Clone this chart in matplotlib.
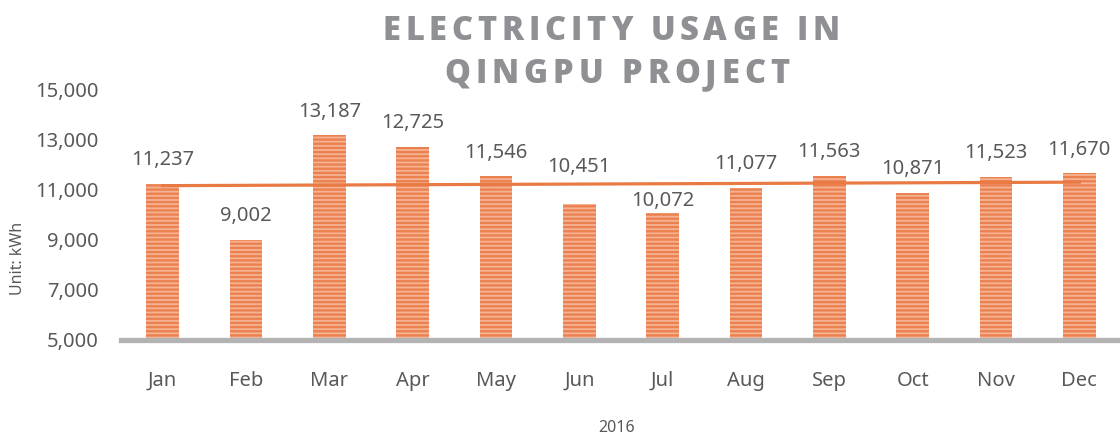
import numpy as np
import matplotlib
matplotlib.use("Agg")
import matplotlib.pyplot as plt
from matplotlib.ticker import FuncFormatter

plt.rcParams['font.family'] = ['Noto Sans', 'DejaVu Sans']
plt.rcParams['hatch.linewidth'] = 1.7

months = ['Jan', 'Feb', 'Mar', 'Apr', 'May', 'Jun', 'Jul', 'Aug', 'Sep', 'Oct', 'Nov', 'Dec']
usage = [11237, 9002, 13187, 12725, 11546, 10451, 10072, 11077, 11563, 10871, 11523, 11670]
title_lines = ['ELECTRICITY USAGE IN', 'QINGPU PROJECT']

gray = '#595959'
bar_light = '#F5B394'
bar_dark = '#EC8150'
trend_col = '#E97A43'
title_font = ['Open Sans', 'DejaVu Sans']
# labels nudged by hand in the original (points above bar top)
label_gap = {'Jun': 23, 'Jul': 5}

fig = plt.figure(figsize=(11.2, 4.4), dpi=100)
ax = fig.add_axes([121 / 1120, 1 - 340 / 440, 1000 / 1120, 250 / 440])

x = np.arange(len(months))
ax.bar(x, usage, width=0.395, bottom=0, color=bar_light, edgecolor=bar_dark,
       hatch='----', linewidth=0, zorder=2)

# linear trendline
k, b = np.polyfit(x, usage, 1)
ax.plot([x[0], x[-1]], [k * x[0] + b, k * x[-1] + b], color=trend_col, lw=2.3, zorder=3)

for xi, m, v in zip(x, months, usage):
    ax.annotate(f'{v:,}', (xi, v), xytext=(0, label_gap.get(m, 13.5)), textcoords='offset points',
                ha='center', va='baseline', fontsize=14.5, color=gray)

ax.set_xlim(-0.5, 11.5)
ax.set_ylim(5000, 15000)
ax.set_yticks(np.arange(5000, 15001, 2000))
ax.yaxis.set_major_formatter(FuncFormatter(lambda v, p: f'{int(v):,}'))
ax.set_xticks(x)
ax.set_xticklabels(months)
ax.tick_params(axis='both', length=0, labelsize=14.5, labelcolor=gray)
ax.tick_params(axis='x', pad=22)
ax.tick_params(axis='y', pad=16)
for s in ['top', 'right', 'left']:
    ax.spines[s].set_visible(False)
ax.spines['bottom'].set_color('#B3B3B3')
ax.spines['bottom'].set_linewidth(3.8)
ax.spines['bottom'].set_zorder(4)

fig.text(18 / 1120, 1 - 258 / 440, 'Unit: kWh', rotation=90, ha='center', va='center',
         fontsize=11.5, color=gray)
fig.text(617 / 1120, 1 - 428 / 440, '2016', ha='center', va='center', fontsize=11.5, color=gray)


def tracked_line(text, cx, cy, width_px, size):
    renderer = fig.canvas.get_renderer()

    def w(s):
        if not s:
            return 0.0
        t = fig.text(0, 0, s, fontsize=size, fontweight='heavy', family=title_font)
        ww = t.get_window_extent(renderer).width
        t.remove()
        return ww

    natural = w(text)
    track = (width_px - natural) / (len(text) - 1)
    left = cx - width_px / 2
    for i, ch in enumerate(text):
        if ch == ' ':
            continue
        px = left + w(text[:i]) + i * track
        fig.text(px / 1120, 1 - cy / 440, ch, fontsize=size, fontweight='heavy',
                 family=title_font, color='#8F9094', ha='left', va='center_baseline')


tracked_line(title_lines[0], 611, 27, 457, 23.5)
tracked_line(title_lines[1], 617, 70, 345, 23.5)

fig.savefig('out.png', dpi=100)
